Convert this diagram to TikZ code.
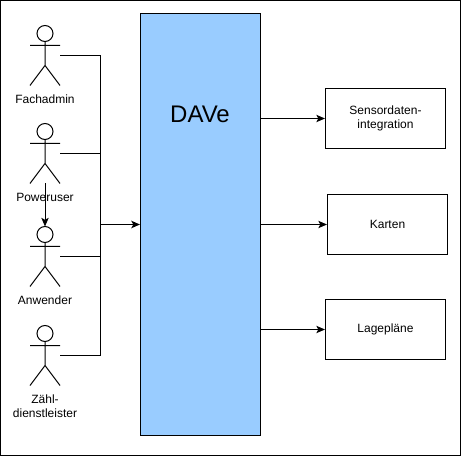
\documentclass[tikz,border=0pt]{standalone}
\usepackage{fontspec}
\setmainfont{Liberation Sans}
\definecolor{daveblue}{HTML}{99CCFF}
\usetikzlibrary{arrows.meta, positioning}
\tikzset{
  arrowline/.style = {-{Stealth[length=6.5pt, width=5.5pt, inset=1.5pt]}, line width=0.75pt},
  plainline/.style = {line width=0.75pt},
  actorbox/.style = {minimum width=22.5pt, minimum height=45pt, inner sep=0pt, outer sep=0pt},
  actorname/.style = {font = \fontsize{9pt}{10.5pt}\selectfont, align = center, inner sep=0pt, below = 6.8pt of #1},
  targetbox/.style = {rectangle, draw = black, line width=0.75pt, minimum width=90pt, minimum height=45pt, inner sep=0pt, font = \fontsize{9pt}{11.2pt}\selectfont, align = center},
  stickman/.pic = {
    \draw[plainline] (0,-22) circle (8);
    \draw[plainline] (0,-14) -- (0,10) (-15,-10) -- (15,-10) (-15,30) -- (0,10) -- (15,30);
  }
}
\begin{document}
\begin{tikzpicture}[x=0.75pt, y=-0.75pt]
\useasboundingbox (0,0) rectangle (461,456);
\draw[plainline] (0.5,0.5) rectangle (460,455.5);
\node[rectangle, draw = black, fill = daveblue, line width=0.75pt, minimum width=90pt, minimum height=316.5pt, inner sep=0pt] (dave) at (200.5,224.5) {};
\node[font = \fontsize{18pt}{20pt}\selectfont] (davetitle) at (200,114) {DAVe};
% actors
\node[actorbox] (fachadmin) at (45,55.5) {};
\node[actorbox] (poweruser) at (45,153.5) {};
\node[actorbox] (anwender) at (45,256.5) {};
\node[actorbox] (zaehl) at (45,355.5) {};
\foreach \who in {fachadmin, poweruser, anwender, zaehl}
  \pic at (\who) {stickman};
\node[actorname=fachadmin] (fachadminname) {Fachadmin};
\node[actorname=poweruser] (powerusername) {Poweruser};
\node[actorname=anwender] (anwendername) {Anwender};
\node[actorname=zaehl] (zaehlname) {Zähl-\\dienstleister};
% targets
\node[targetbox] (sensor) at (385.5,118.5) {\raisebox{-1pt}{\shortstack{Sensordaten-\\[1pt]integration}}};
\node[targetbox] (karten) at (387.5,224.5) {\raisebox{-0.5pt}{Karten}};
\node[targetbox] (lage) at (385.5,329.5) {\raisebox{-0.5pt}{Lagepläne}};
\coordinate (bus) at (100.5,224.5);
\draw[plainline] (fachadmin.east) -| (bus);
\draw[plainline] (poweruser.east) -| (bus);
\draw[plainline] (anwender.east) -| (bus);
\draw[plainline] (zaehl.east) -| (bus);
\draw[arrowline, line width=1.1pt] (bus) -- (dave);
\draw[arrowline] (poweruser.south) -- (anwender.north);
\draw[arrowline] (dave.east |- sensor.west) -- (sensor);
\draw[arrowline] (dave.east |- karten.west) -- (karten);
\draw[arrowline] (dave.east |- lage.west) -- (lage);
\end{tikzpicture}
\end{document}
